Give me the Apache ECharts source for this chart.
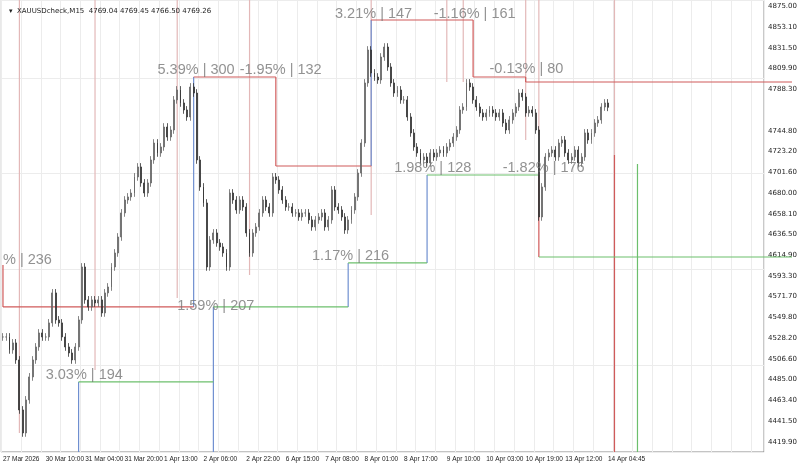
<!DOCTYPE html>
<html style="height: 100%">
<head><meta charset="utf-8"></head>
<body style="height: 100%; margin: 0; background: #fff">
<div id="container" style="width: 800px; height: 465px"></div>
<script src="https://cdn.jsdelivr.net/npm/echarts@6/dist/echarts.min.js"></script>
<script>
// closes of compressed M15 bars
var closes = [
  4529.5, 4529.5, 4516, 4523.3, 4505.5, 4453.3, 4429.3, 4463.8, 4487.8, 4505.5, 4519.1, 4533.7, 4529.5, 4529.5,
  4544.2, 4575.5, 4547.3, 4544.2, 4529.5, 4519.1, 4512.8, 4505.5, 4519.1, 4547.3, 4602.6, 4568.2, 4560.8, 4568.2,
  4565, 4568.2, 4554.6, 4575.5, 4581.7, 4602.6, 4617.2, 4633.9, 4659, 4672.5, 4675.7, 4679.8, 4696.6, 4707,
  4690.3, 4679.8, 4690.3, 4714.3, 4732, 4721.6, 4727.9, 4748.7, 4738.3, 4745.6, 4777, 4787.4, 4773.8, 4766.5,
  4759.2, 4790.5, 4784.2, 4714.3, 4686.1, 4669.4,
  4602.6, 4630.8, 4638.1, 4627.7, 4623.5, 4617.2, 4602.6, 4679.8, 4672.5, 4662.1, 4672.5, 4665.2, 4638.1, 4617.2,
  4638.1, 4644.4, 4659, 4672.5, 4665.2, 4659, 4696.6, 4693.4, 4683, 4672.5, 4665.2, 4665.2, 4659, 4659, 4654.8,
  4659, 4659, 4651.7, 4644.4, 4651.7, 4654.8, 4659, 4644.4, 4651.7, 4683, 4665.2, 4662.1, 4654.8, 4641.2, 4651.7,
  4662.1, 4675.7, 4700.7, 4732, 4794.7, 4829.1, 4805.1, 4800.9, 4797.8, 4821.8, 4832.2, 4811.4, 4794.7, 4784.2,
  4787.4, 4777,
  4777, 4759.2, 4742.5, 4727.9, 4721.6, 4714.3, 4717.4, 4711.2, 4721.6, 4717.4, 4721.6, 4724.7, 4721.6, 4727.9,
  4732, 4738.3, 4745.6, 4766.5, 4769.6, 4794.7, 4790.5, 4777, 4769.6, 4763.4, 4759.2, 4763.4, 4766.5, 4763.4,
  4759.2, 4763.4, 4752.9, 4745.6, 4756.1, 4763.4, 4769.6, 4784.2, 4780.1, 4763.4, 4766.5, 4763.4, 4745.6, 4654.8,
  4686.1, 4717.4, 4721.6, 4724.7, 4717.4, 4732, 4735.2, 4721.6, 4714.3, 4717.4, 4724.7, 4711.2, 4717.4, 4742.5,
  4735.2, 4742.5, 4752.9, 4756.1, 4769.6, 4773.8, 4769.26
];
var wick = 4;
var timeLabels = ['27 Mar 2026', '30 Mar 10:00', '31 Mar 04:00', '31 Mar 20:00', '1 Apr 13:00', '2 Apr 06:00',
  '2 Apr 22:00', '6 Apr 15:00', '7 Apr 08:00', '8 Apr 01:00', '8 Apr 17:00', '9 Apr 10:00', '10 Apr 03:00',
  '10 Apr 19:00', '13 Apr 12:00', '14 Apr 04:45'];
var timeIdx = [0, 13, 25, 37, 49, 61, 74, 86, 98, 110, 122, 135, 147, 159, 171, 184];
var priceTicks = [4875.00, 4853.10, 4831.50, 4809.90, 4788.30, 4744.80, 4723.20, 4701.60, 4680.00, 4658.10,
  4636.50, 4614.90, 4593.30, 4571.70, 4549.80, 4528.20, 4506.60, 4485.00, 4463.40, 4441.50, 4419.90];
var lastPrice = 4769.26;
var header = '\u25BE  XAUUSDcheck,M15  4769.04 4769.45 4766.50 4769.26';

// [x1, y1, x2, y2, kind]  x = bar index, y = price
var yTop = 4881.3, yBottom = 4409.4;
var segments = [
  [4.5, yTop, 4.5, 4429.3, 'fade'], [27.5, yTop, 27.5, 4495.1, 'fade'], [53, yTop, 53, 4570.2, 'fade'],
  [74.9, yTop, 74.9, 4594.3, 'fade'], [112.3, yTop, 112.3, 4656.9, 'fade'], [135, yTop, 135, 4795.7, 'fade'],
  [139.8, yTop, 139.8, 4795.7, 'fade'], [159.3, yTop, 159.3, 4735.2, 'fade'], [162.6, yTop, 162.6, 4740.4, 'fade'],
  [185.6, yTop, 185.6, yBottom, 'fade'], [186.2, 4719.5, 186.2, yBottom, 'red'],
  [23.4, 4482.6, 23.4, yBottom, 'blue'], [58.4, 4800.9, 58.4, 4560.9, 'blue'], [63.5, 4560.9, 63.5, yBottom, 'blue'],
  [104.8, 4606.8, 104.8, 4560.9, 'blue'], [111.7, 4860.4, 111.7, 4708, 'blue'], [129.3, 4698.6, 129.3, 4606.8, 'blue'],
  [0, 4604.7, 0, 4560.9, 'red'], [0, 4560.9, 58.4, 4560.9, 'red'], [58.4, 4800.9, 83.2, 4800.9, 'red'],
  [83.2, 4800.9, 83.2, 4708, 'red'], [83.2, 4708, 111.7, 4708, 'red'], [111.7, 4860.4, 142.5, 4860.4, 'red'],
  [142.5, 4860.4, 142.5, 4800.9, 'red'], [142.5, 4800.9, 158.7, 4800.9, 'red'], [158.7, 4800.9, 158.7, 4795.7, 'red'],
  [158.7, 4795.7, 240, 4795.7, 'red'], [163.2, 4698.6, 163.2, 4613, 'red'],
  [23.4, 4482.6, 63.5, 4482.6, 'green'], [63.5, 4560.9, 104.8, 4560.9, 'green'], [104.8, 4606.8, 129.3, 4606.8, 'green'],
  [129.3, 4698.6, 163.2, 4698.6, 'green'], [163.2, 4613, 240, 4613, 'green'], [193.4, 4710.2, 193.4, yBottom, 'green']
];
var segColors = { fade: '#e3b8b8', red: '#d05a5a', blue: '#6f8fd0', green: '#6cbf6c' };
var notes = [
  [-0.5, 4610, '% | 236'], [12.6, 4489.9, '3.03% | 194'], [47, 4808.2, '5.39% | 300'], [71.9, 4808.2, '-1.95% | 132'],
  [52.7, 4561.9, '1.59% | 207'], [94, 4614, '1.17% | 216'], [100.6, 4866.7, '3.21% | 147'], [131, 4866.7, '-1.16% | 161'],
  [118.6, 4706, '1.98% | 128'], [147.6, 4809.3, '-0.13% | 80'], [151.8, 4706, '-1.82% | 176']
];

var total = Math.round(closes.length * 776 / 618);
var cats = [];
for (var i = 0; i < total; i++) cats.push('');
timeIdx.forEach(function (k, j) { cats[k] = timeLabels[j]; });
var ohlc = closes.map(function (c, i) {
  var o = i ? closes[i - 1] : c;
  return [o, c, Math.min(o, c) - wick, Math.max(o, c) + wick];
});

var chart = echarts.init(document.getElementById('container'));
chart.setOption({
  animation: false,
  title: { text: header, left: 4, top: 3, textStyle: { fontSize: 7, fontWeight: 'normal', color: '#222', fontFamily: 'DejaVu Sans' } },
  grid: { left: 0, right: 24, top: 0, bottom: 13, show: true, borderColor: '#888', borderWidth: 1 },
  xAxis: {
    type: 'category', data: cats, boundaryGap: true,
    axisLine: { show: false }, axisTick: { show: false },
    axisLabel: {
      interval: function (i) { return cats[i] !== ''; }, align: 'left', fontSize: 6.5, color: '#222', margin: 4,
      fontFamily: 'Liberation Sans', showMinLabel: true, showMaxLabel: true, hideOverlap: false
    },
    splitLine: { show: true, interval: function (i) { return i % 6 === 0; }, lineStyle: { color: '#ececec' } }
  },
  yAxis: {
    type: 'value', position: 'right', min: yBottom, max: yTop,
    axisLine: { show: false }, axisTick: { show: false },
    axisLabel: { customValues: priceTicks, formatter: function (v) { return v.toFixed(2); }, fontSize: 7, color: '#222', margin: 4, fontFamily: 'DejaVu Sans' },
    splitLine: { show: true, lineStyle: { color: '#ececec' } }
  },
  series: [
    {
      type: 'custom', renderItem: function (p, api) {
        var a = api.coord([api.value(0), api.value(1)]), b = api.coord([api.value(2), api.value(3)]);
        return { type: 'line', shape: { x1: a[0], y1: a[1], x2: b[0], y2: b[1] },
          style: { stroke: segColors[segments[p.dataIndex][4]], lineWidth: 1.2 } };
      }, data: segments.map(function (s) { return s.slice(0, 4); }), z: 1, silent: true
    },
    {
      type: 'candlestick', data: ohlc, barWidth: 1.4, z: 3,
      itemStyle: { color: '#666', color0: '#333', borderColor: '#666', borderColor0: '#333', borderWidth: 0.8 },
      markLine: {
        symbol: 'none', silent: true, data: [{ yAxis: lastPrice }],
        lineStyle: { opacity: 0 },
        label: { position: 'end', formatter: lastPrice.toFixed(2), backgroundColor: '#000', color: '#fff', fontSize: 7, padding: [2, 2], distance: 2 }
      }
    },
    {
      type: 'scatter', symbolSize: 0, z: 4, silent: true,
      data: notes.map(function (n) { return [n[0], n[1], n[2]]; }),
      label: { show: true, position: 'right', distance: 0, formatter: function (p) { return p.data[2]; }, fontSize: 14.5, color: '#777', fontFamily: 'Liberation Sans' }
    }
  ]
});
</script>
</body>
</html>
